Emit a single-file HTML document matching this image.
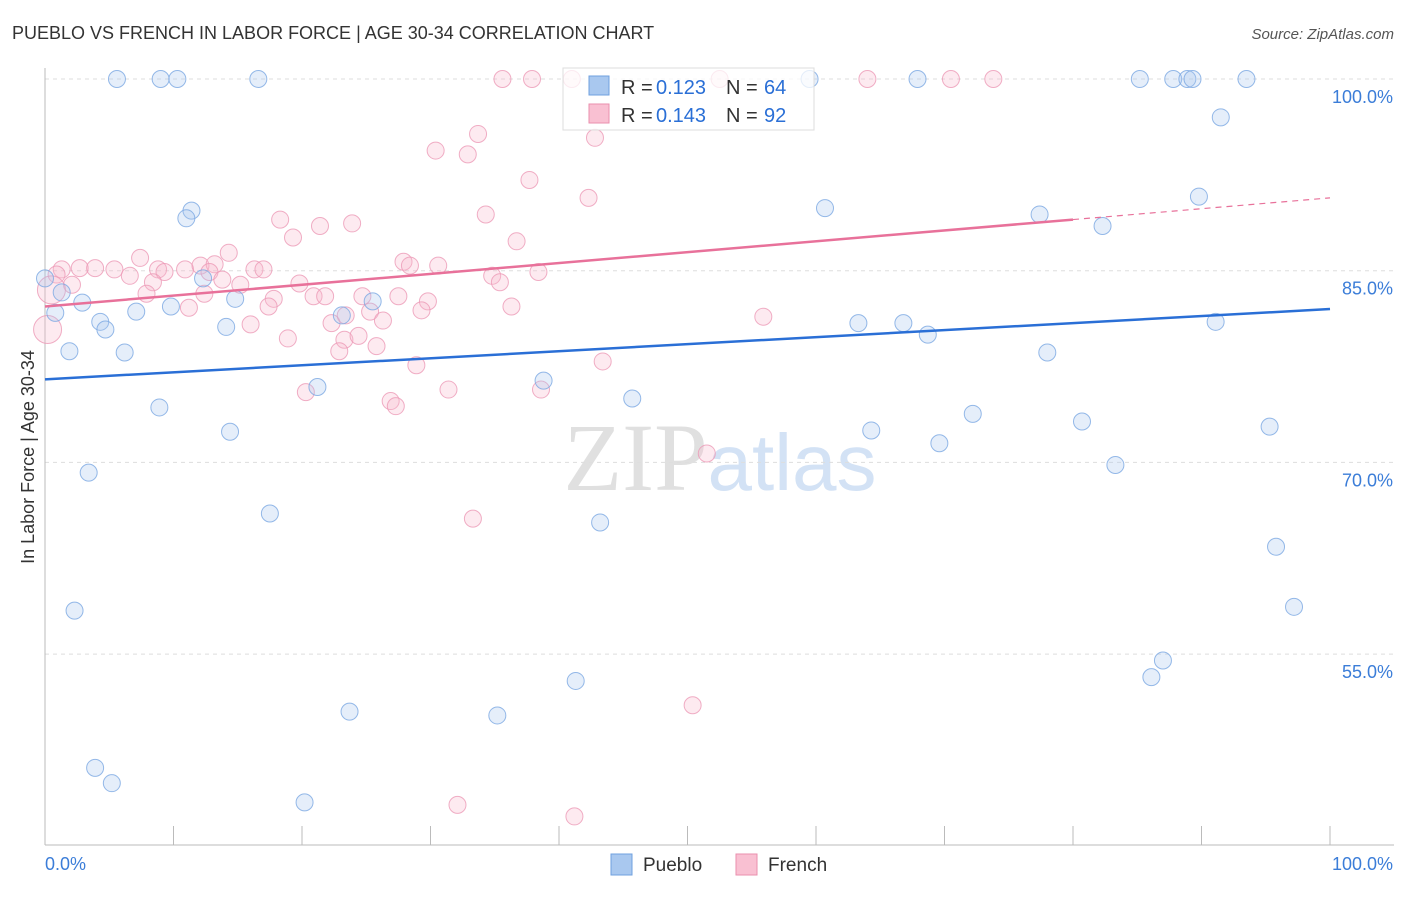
<!DOCTYPE html>
<html><head><meta charset="utf-8">
<style>
body{margin:0;background:#fff;font-family:"Liberation Sans",sans-serif;}
svg text{font-family:"Liberation Sans",sans-serif;}
</style></head>
<body>
<svg id="chart" width="1406" height="892" xmlns="http://www.w3.org/2000/svg">
<text x="12" y="39" font-size="18" fill="#333">PUEBLO VS FRENCH IN LABOR FORCE | AGE 30-34 CORRELATION CHART</text>
<text x="1394" y="39" font-size="15" fill="#555" font-style="italic" text-anchor="end">Source: ZipAtlas.com</text>
<text x="720" y="490" font-size="96" text-anchor="middle"><tspan fill="#e0e0e0" font-family="Liberation Serif">ZIP</tspan><tspan fill="#d3e2f5" font-size="80">atlas</tspan></text>
<text transform="translate(34,457) rotate(-90)" font-size="18" fill="#333" text-anchor="middle">In Labor Force | Age 30-34</text>
<g id="grid"></g><g id="marks"></g>
</svg>
<script>
const yTicks=[100,85,70,55];
const yTickLabels=["100.0%","85.0%","70.0%","55.0%"];
const pueblo=[[5.6,100],[9.0,100],[10.3,100],[16.6,100],[59.5,100],[67.9,100],[85.2,100],[87.8,100],[88.9,100],[89.3,100],[93.5,100],[91.5,97.0],[89.8,90.8],[60.7,89.9],[77.4,89.4],[82.3,88.5],[11.4,89.7],[11.0,89.1],[0,84.4],[0.8,81.7],[1.3,83.3],[2.9,82.5],[1.9,78.7],[4.3,81.0],[4.7,80.4],[6.2,78.6],[7.1,81.8],[9.8,82.2],[12.3,84.4],[14.8,82.8],[14.1,80.6],[8.9,74.3],[14.4,72.4],[3.4,69.2],[21.2,75.9],[23.1,81.5],[25.5,82.6],[38.8,76.4],[45.7,75.0],[63.3,80.9],[66.8,80.9],[68.7,80.0],[78.0,78.6],[91.1,81.0],[72.2,73.8],[80.7,73.2],[95.3,72.8],[64.3,72.5],[69.6,71.5],[83.3,69.8],[17.5,66.0],[43.2,65.3],[95.8,63.4],[2.3,58.4],[97.2,58.7],[87.0,54.5],[86.1,53.2],[41.3,52.9],[23.7,50.5],[35.2,50.2],[3.9,46.1],[5.2,44.9],[20.2,43.4]];
const french=[[35.6,100],[37.9,100],[41.0,100],[52.5,100],[64.0,100],[70.5,100],[73.8,100],[33.7,95.7],[42.8,95.4],[30.4,94.4],[32.9,94.1],[37.7,92.1],[42.3,90.7],[34.3,89.4],[18.3,89.0],[21.4,88.5],[23.9,88.7],[19.3,87.6],[36.7,87.3],[7.4,86.0],[14.3,86.4],[1.3,85.1],[2.7,85.2],[3.9,85.2],[5.4,85.1],[6.6,84.6],[8.8,85.1],[9.3,84.9],[10.9,85.1],[12.1,85.4],[13.2,85.5],[12.8,84.9],[16.3,85.1],[17.0,85.1],[27.9,85.7],[28.4,85.4],[30.6,85.4],[34.8,84.6],[38.4,84.9],[35.4,84.1],[8.4,84.1],[13.8,84.3],[15.2,83.9],[19.8,84.0],[20.9,83.0],[21.8,83.0],[24.7,83.0],[17.8,82.8],[12.4,83.2],[7.9,83.2],[11.2,82.1],[17.4,82.2],[16.0,80.8],[18.9,79.7],[22.3,80.9],[23.4,81.5],[25.3,81.8],[26.3,81.1],[27.5,83.0],[29.8,82.6],[29.3,81.9],[36.3,82.2],[23.3,79.6],[24.4,79.9],[25.8,79.1],[22.9,78.7],[55.9,81.4],[43.4,77.9],[28.9,77.6],[20.3,75.5],[26.9,74.8],[27.3,74.4],[31.4,75.7],[38.6,75.7],[51.5,70.7],[33.3,65.6],[50.4,51.0],[32.1,43.2],[41.2,42.3],[2.1,83.9],[0.9,84.7]];
const frenchBig=[[0.5,83.5],[0.2,80.4]];
const puebloTrend=[76.5,82.0];
const frenchTrend=[82.2,90.7];
const frenchSolidEnd=80;

const X0=45,X1=1330,YTOP=79,PXPER=12.78;
const sx=v=>X0+(X1-X0)*v/100;
const sy=v=>YTOP+(100-v)*PXPER;
const NS="http://www.w3.org/2000/svg";
const grid=document.getElementById('grid'),marks=document.getElementById('marks');
function mk(tag,attrs,parent){const e=document.createElementNS(NS,tag);for(const k in attrs)e.setAttribute(k,attrs[k]);parent.appendChild(e);return e;}

yTicks.forEach((t,i)=>{
  const l=mk('line',{x1:X0,x2:1394,y1:sy(t),y2:sy(t),stroke:'#ddd','stroke-dasharray':'4,4'},grid);
  
  
  const tx=mk('text',{x:1393,y:sy(t)+24,'font-size':18,fill:'#3b7dd8','text-anchor':'end'},grid);
  tx.textContent=yTickLabels[i];
  
  
});
const ax=mk('line',{x1:X0,x2:X0,y1:68,y2:845,stroke:'#bbb'},grid);


const bx=mk('line',{x1:X0,x2:1394,y1:845,y2:845,stroke:'#bbb'},grid);


for(let i=0;i<=10;i++){
  const t=mk('line',{x1:sx(i*10),x2:sx(i*10),y1:826,y2:845,stroke:'#bbb'},grid);
  
  
}
[[0,'0.0%','start',X0],[100,'100.0%','end',1393]].forEach(d=>{
  const t=mk('text',{x:d[3],y:870,'font-size':18,fill:'#3b7dd8','text-anchor':d[2]},grid);
  t.textContent=d[1];
  
  
});

function dot(p,r,fill,stroke,name){
  const c=mk('circle',{cx:sx(p[0]),cy:sy(p[1]),r:r,fill:fill,stroke:stroke,'stroke-width':1,'fill-opacity':0.3,'stroke-opacity':0.8},marks);
  
  
}
french.forEach(p=>dot(p,8.5,'#f9b8cc','#ec9ab6','french-point'));
frenchBig.forEach(p=>dot(p,14,'#f9b8cc','#ec9ab6','french-point'));
pueblo.forEach(p=>dot(p,8.5,'#a9c8ef','#7aa8e2','pueblo-point'));

const bl=mk('line',{x1:sx(0),y1:sy(puebloTrend[0]),x2:sx(100),y2:sy(puebloTrend[1]),stroke:'#2a6fd6','stroke-width':2.5},marks);


const fy=x=>frenchTrend[0]+(frenchTrend[1]-frenchTrend[0])*x/100;
const fl=mk('line',{x1:sx(0),y1:sy(fy(0)),x2:sx(frenchSolidEnd),y2:sy(fy(frenchSolidEnd)),stroke:'#e8719a','stroke-width':2.5},marks);


const fd=mk('line',{x1:sx(frenchSolidEnd),y1:sy(fy(frenchSolidEnd)),x2:sx(100),y2:sy(fy(100)),stroke:'#e8719a','stroke-width':1.2,'stroke-dasharray':'6,5'},marks);



const lg=mk('g',{},marks);


mk('rect',{x:563,y:68,width:251,height:62,fill:'#fff','fill-opacity':0.75,stroke:'#ddd'},lg);
mk('rect',{x:589,y:76,width:20,height:19,fill:'#a9c8ef',stroke:'#6fa0df'},lg);
mk('rect',{x:589,y:104,width:20,height:19,fill:'#f9c0d2',stroke:'#ea8fae'},lg);
[[94,'0.123','64'],[122,'0.143','92']].forEach(r=>{
  const a=mk('text',{x:621,y:r[0],'font-size':20,fill:'#333'},lg);a.textContent='R =';
  const b=mk('text',{x:656,y:r[0],'font-size':20,fill:'#2a6fd6'},lg);b.textContent=r[1];
  const c=mk('text',{x:726,y:r[0],'font-size':20,fill:'#333'},lg);c.textContent='N =';
  const d=mk('text',{x:764,y:r[0],'font-size':20,fill:'#2a6fd6'},lg);d.textContent=r[2];
});
[[611,'#a9c8ef','#6fa0df','Pueblo','legend-pueblo'],[736,'#f9c0d2','#ea8fae','French','legend-french']].forEach(l=>{
  const g=mk('g',{},marks);
  
  
  mk('rect',{x:l[0],y:854,width:21,height:21,fill:l[1],stroke:l[2]},g);
  const t=mk('text',{x:l[0]+32,y:871,'font-size':19,fill:'#333'},g);
  t.textContent=l[3];
});
</script>
</body></html>
